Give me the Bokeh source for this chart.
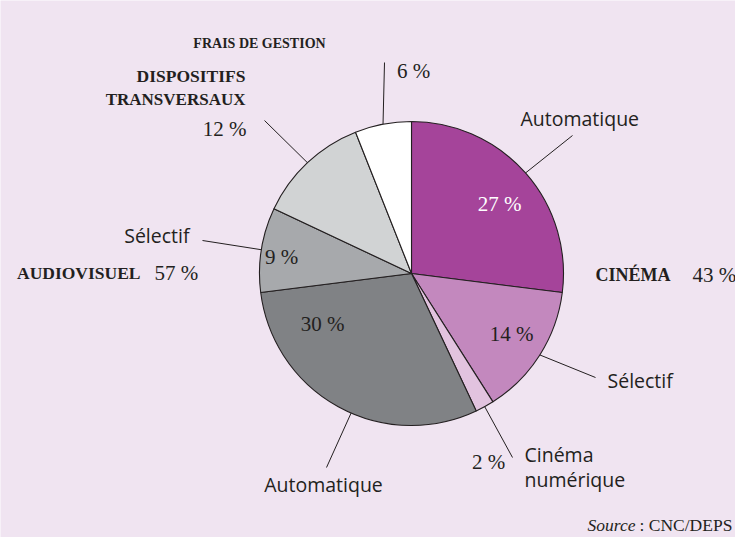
import math
from bokeh.plotting import figure
from bokeh.models import ColumnDataSource, Range1d
from bokeh.core.properties import value
from bokeh.embed import file_html
from bokeh.resources import INLINE

# ---------------- data ----------------
slice_names = ["Cinéma automatique", "Cinéma sélectif", "Cinéma numérique",
               "Audiovisuel automatique", "Audiovisuel sélectif",
               "Dispositifs transversaux", "Frais de gestion"]
slice_values = [27, 14, 2, 30, 9, 12, 6]
slice_pct_labels = ["27 %", "14 %", "2 %", "30 %", "9 %", "12 %", "6 %"]
group_names = ["Cinéma", "Audiovisuel"]
group_labels = ["CINÉMA", "AUDIOVISUEL"]
group_pct_labels = ["43 %", "57 %"]
source_note = "Source"
source_rest = ": CNC/DEPS"

# ---------------- style / layout ----------------
W, H = 735, 537
BG = "#F0E4F1"
INK = "#231F20"
slice_colors = ["#A5449A", "#C388BE", "#E2C3DF", "#808285", "#A7A9AC", "#D1D3D4", "#FFFFFF"]
CX, CY, R = 411, 264, 152

SANS = "Open Sans"
SERIF = "Liberation Serif"
SANS_SIZE = "19.5px"
PCT_SIZE = "21px"

p = figure(width=W, height=H, output_backend="svg", toolbar_location=None,
           x_range=Range1d(0, W), y_range=Range1d(0, H),
           x_axis_location=None, y_axis_location=None, min_border=0)
p.grid.visible = False
p.outline_line_color = None
p.background_fill_color = BG
p.border_fill_color = BG

# wedges: clockwise from 12 o'clock
total = float(sum(slice_values))
cum = 0.0
starts, ends = [], []
for v in slice_values:
    a0 = cum / total
    cum += v
    a1 = cum / total
    starts.append(math.pi / 2 - 2 * math.pi * a1)
    ends.append(math.pi / 2 - 2 * math.pi * a0)

src = ColumnDataSource(dict(start=starts, end=ends, color=slice_colors, name=slice_names))
p.wedge(x=CX, y=CY, radius=R, start_angle="start", end_angle="end", direction="anticlock",
        fill_color="color", line_color=INK, line_width=1.1, source=src)

# leader lines: (position around pie in %, outer end point)
leader_at = [13.5, 34.0, 42.0, 56.5, 77.5, 88.0, 97.0]
leader_out = [(572, 402), (595, 160), (512, 80), (326, 70), (202, 297), (264, 417), (384, 475)]
xs, ys = [], []
for f, (ox, oy) in zip(leader_at, leader_out):
    t = 2 * math.pi * f / 100.0
    xs.append([CX + R * math.sin(t), ox])
    ys.append([CY + R * math.cos(t), oy])
p.multi_line(xs=xs, ys=ys, line_color=INK, line_width=1)

# percentage labels (serif)
pct_pos = {0: (499, 334), 1: (511, 204), 3: (322, 214), 4: (281, 281)}
for i, (x, y) in pct_pos.items():
    p.text(x=[x], y=[y], text=[slice_pct_labels[i]], text_align="center", text_baseline="middle",
           text_font=value(SERIF), text_font_size=PCT_SIZE,
           text_color="#FFFFFF" if i == 0 else INK)
# outside percentages
p.text(x=[488], y=[76], text=[slice_pct_labels[2]], text_align="center", text_baseline="middle",
       text_font=value(SERIF), text_font_size=PCT_SIZE, text_color=INK)
p.text(x=[246], y=[409], text=[slice_pct_labels[5]], text_align="right", text_baseline="middle",
       text_font=value(SERIF), text_font_size=PCT_SIZE, text_color=INK)
p.text(x=[413], y=[467], text=[slice_pct_labels[6]], text_align="center", text_baseline="middle",
       text_font=value(SERIF), text_font_size=PCT_SIZE, text_color=INK)

# sub-labels (sans)
sub = [
    ("Automatique", 520, 419, "left"),
    ("Sélectif", 607, 157, "left"),
    ("Automatique", 323, 53, "center"),
    ("Sélectif", 189, 302, "right"),
    ("Cinéma", 524, 83, "left"),
    ("numérique", 524, 58, "left"),
]
for t, x, y, al in sub:
    p.text(x=[x], y=[y], text=[t], text_align=al, text_baseline="middle",
           text_font=value(SANS), text_font_size=SANS_SIZE, text_color=INK)

# bold small-caps headings
BOLD = dict(text_font=value(SERIF), text_font_style="bold",
            text_color=INK, text_baseline="middle")
p.text(x=[595], y=[263], text=[group_labels[0]], text_align="left", text_font_size="18px", **BOLD)
p.text(x=[692], y=[263], text=[group_pct_labels[0]], text_align="left", text_baseline="middle",
       text_font=value(SERIF), text_font_size=PCT_SIZE, text_color=INK)
p.text(x=[140], y=[265], text=[group_labels[1]], text_align="right", text_font_size="17.5px", **BOLD)
p.text(x=[154], y=[265], text=[group_pct_labels[1]], text_align="left", text_baseline="middle",
       text_font=value(SERIF), text_font_size=PCT_SIZE, text_color=INK)
p.text(x=[245], y=[462], text=["DISPOSITIFS"], text_align="right", text_font_size="17.5px", **BOLD)
p.text(x=[245], y=[438], text=["TRANSVERSAUX"], text_align="right", text_font_size="17px", **BOLD)
p.text(x=[259], y=[494], text=["FRAIS DE GESTION"], text_align="center", text_font_size="14px", **BOLD)

# source
p.text(x=[587], y=[13], text=[source_note], text_align="left", text_baseline="middle",
       text_font=value(SERIF), text_font_style="italic", text_font_size="17.5px", text_color=INK)
p.text(x=[639], y=[13], text=[source_rest], text_align="left", text_baseline="middle",
       text_font=value(SERIF), text_font_size="17.5px", text_color=INK)

open("out.html", "w").write(file_html(p, INLINE))
